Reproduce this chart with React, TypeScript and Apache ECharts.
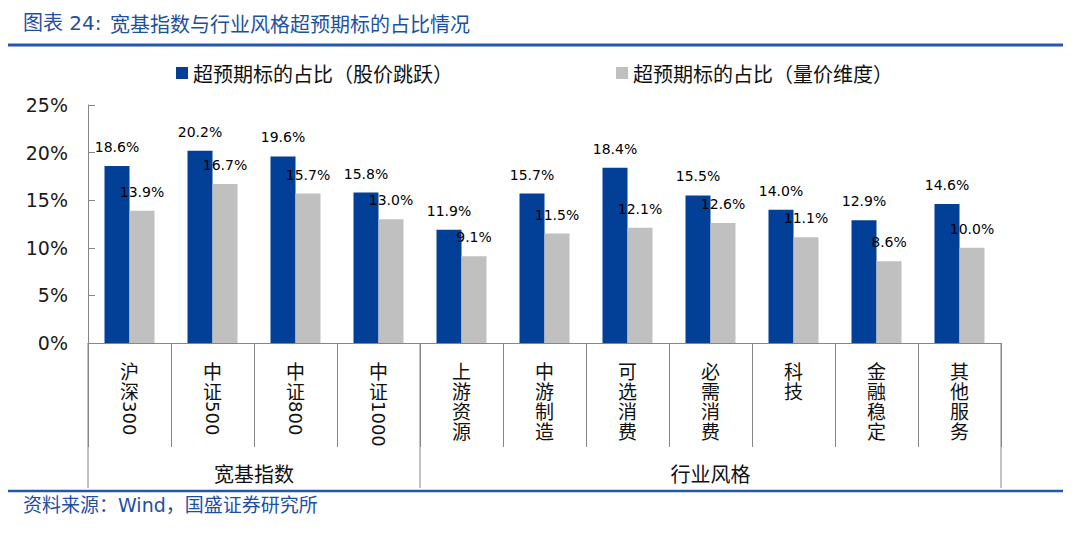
import React, { useEffect, useRef } from 'react';
import * as echarts from 'echarts';

const categories = ['沪深300', '中证500', '中证800', '中证1000', '上游资源', '中游制造', '可选消费', '必需消费', '科技', '金融稳定', '其他服务'];
const seriesNames = ['超预期标的占比（股价跳跃）', '超预期标的占比（量价维度）'];
const jumpValues = [18.6, 20.2, 19.6, 15.8, 11.9, 15.7, 18.4, 15.5, 14.0, 12.9, 14.6];
const volPriceValues = [13.9, 16.7, 15.7, 13.0, 9.1, 11.5, 12.1, 12.6, 11.1, 8.6, 10.0];
const groupNames = ['宽基指数', '行业风格'];
const groupStarts = [0, 4];
const groupEnds = [4, 11];
const titlePrefix = '图表 24:';
const titleMain = '宽基指数与行业风格超预期标的占比情况';
const sourceText = '资料来源：Wind，国盛证券研究所';

const BLUE = '#023F96';
const GRAY = '#C0C0C0';
const AXIS = '#868686';
const TITLE_BLUE = '#1E50A2';
const LINE_BLUE = '#2456AE';
const CJK = "'Noto Sans CJK SC'";
const LATIN = "'DejaVu Sans', 'Noto Sans CJK SC'";

const LABEL_MARGIN = 17;
const LABEL_LH = 20;

function splitLabel(s: string) {
  const m = s.match(/^(\D*)(\d*)$/);
  return { cjk: m ? m[1] : s, digits: m ? m[2] : '' };
}

export default function App() {
  const ref = useRef<HTMLDivElement>(null);
  useEffect(() => {
    if (!ref.current) return;
    const chart = echarts.init(ref.current, null, { renderer: 'svg' });
    const legendBase = {
      top: 63,
      itemWidth: 12,
      itemHeight: 12,
      icon: 'rect',
      padding: 0,
      itemGap: 0,
      textStyle: { fontSize: 20, color: '#111', fontFamily: CJK },
    };
    const barLabel = {
      show: true,
      position: 'top',
      distance: 12,
      fontSize: 14,
      color: '#000',
      fontFamily: LATIN,
      formatter: (p: any) => `${Number(p.value).toFixed(1)}%`,
    };
    chart.setOption({
      animation: false,
      backgroundColor: '#fff',
      legend: [
        { ...legendBase, left: 176, data: [seriesNames[0]] },
        { ...legendBase, left: 616, data: [seriesNames[1]] },
      ],
      grid: { left: 88, right: 79, top: 105, bottom: 196, containLabel: false, outerBoundsMode: 'none' },
      xAxis: {
        type: 'category',
        data: categories,
        boundaryGap: true,
        axisLine: { show: true, lineStyle: { color: AXIS, width: 1 } },
        axisTick: { show: true, interval: 0, length: 104, lineStyle: { color: AXIS, width: 1 } },
        axisLabel: {
          interval: 0,
          margin: LABEL_MARGIN,
          fontSize: 19,
          lineHeight: LABEL_LH,
          color: '#111',
          fontFamily: CJK,
          verticalAlign: 'top',
          formatter: (v: string) => splitLabel(v).cjk.split('').join('\n'),
        },
        splitLine: { show: false },
      },
      yAxis: {
        type: 'value',
        min: 0,
        max: 25,
        interval: 5,
        axisLine: { show: true, lineStyle: { color: AXIS, width: 1 } },
        axisTick: { show: true, inside: true, length: 7, lineStyle: { color: AXIS } },
        axisLabel: { formatter: '{value}%', fontSize: 19, color: '#1a1a1a', fontFamily: LATIN, margin: 20 },
        splitLine: { show: false },
      },
      series: [
        {
          name: seriesNames[0],
          type: 'bar',
          data: jumpValues,
          barWidth: 25,
          barGap: '0%',
          itemStyle: { color: BLUE },
          label: barLabel,
        },
        {
          name: seriesNames[1],
          type: 'bar',
          data: volPriceValues,
          barWidth: 25,
          barGap: '0%',
          itemStyle: { color: GRAY },
          label: barLabel,
        },
      ],
    });

    const c0 = chart.convertToPixel({ xAxisIndex: 0 }, 0) as number;
    const c1 = chart.convertToPixel({ xAxisIndex: 0 }, 1) as number;
    const band = c1 - c0;
    const boundary = (i: number) => c0 - band / 2 + i * band;
    const y0 = chart.convertToPixel({ yAxisIndex: 0 }, 0) as number;

    const graphics: any[] = [];
    graphics.push({
      type: 'text', x: 23, y: 23,
      style: { text: titlePrefix, fontSize: 20, fill: TITLE_BLUE, fontFamily: LATIN, verticalAlign: 'middle', align: 'left' },
    });
    graphics.push({
      type: 'text', x: 110, y: 23,
      style: { text: titleMain, fontSize: 20, fill: TITLE_BLUE, fontFamily: CJK, verticalAlign: 'middle', align: 'left' },
    });
    graphics.push({ type: 'line', shape: { x1: 8, y1: 45, x2: 1063, y2: 45 }, style: { stroke: LINE_BLUE, lineWidth: 3 } });
    graphics.push({ type: 'line', shape: { x1: 8, y1: 491, x2: 1063, y2: 491 }, style: { stroke: LINE_BLUE, lineWidth: 2.5 } });
    graphics.push({
      type: 'text', x: 23, y: 505,
      style: { text: sourceText, fontSize: 19, fill: TITLE_BLUE, fontFamily: LATIN, verticalAlign: 'middle', align: 'left' },
    });

    const lineEnd = y0 + 145;
    groupStarts.forEach((s, gi) => {
      graphics.push({ type: 'line', shape: { x1: boundary(s), y1: y0, x2: boundary(s), y2: lineEnd }, style: { stroke: AXIS, lineWidth: 1 } });
      const e = groupEnds[gi];
      graphics.push({
        type: 'text', x: (boundary(s) + boundary(e)) / 2, y: y0 + 130,
        style: { text: groupNames[gi], fontSize: 20, fill: '#111', fontFamily: CJK, align: 'center', verticalAlign: 'middle' },
      });
    });
    const lastEnd = groupEnds[groupEnds.length - 1];
    graphics.push({ type: 'line', shape: { x1: boundary(lastEnd), y1: y0, x2: boundary(lastEnd), y2: lineEnd }, style: { stroke: AXIS, lineWidth: 1 } });

    categories.forEach((c, i) => {
      const { cjk, digits } = splitLabel(c);
      if (!digits) return;
      const cx = chart.convertToPixel({ xAxisIndex: 0 }, i) as number;
      graphics.push({
        type: 'text', x: cx, y: y0 + LABEL_MARGIN + cjk.length * LABEL_LH + 1,
        rotation: -Math.PI / 2,
        style: { text: digits, fontSize: 18, fill: '#111', fontFamily: LATIN, align: 'left', verticalAlign: 'middle' },
      });
    });

    chart.setOption({ graphic: graphics });
    return () => chart.dispose();
  }, []);
  return <div ref={ref} style={{ position: 'fixed', left: 0, top: 0, width: 1080, height: 539, background: '#fff' }} />;
}
